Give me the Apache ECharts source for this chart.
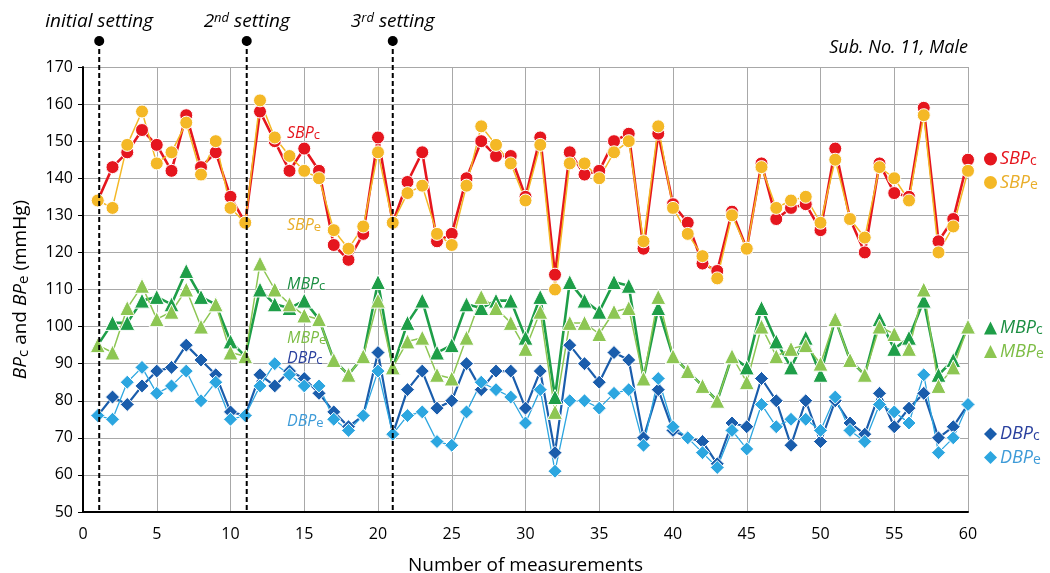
<!DOCTYPE html>
<html><head><meta charset="utf-8">
<script src="https://cdn.jsdelivr.net/npm/echarts@6/dist/echarts.min.js"></script>
<style>html,body{margin:0;padding:0;background:#fff}#c{width:1050px;height:573px}</style>
</head><body><div id="c"></div>
<script>
const measurements = Array.from({length: 60}, (_, i) => i + 1);
const sbpC = [134,143,147,153,149,142,157,143,147,135,128,158,150,142,148,142,122,118,125,151,128,139,147,123,125,140,150,146,146,135,151,114,147,141,142,150,152,121,152,133,128,117,115,131,121,144,129,132,133,126,148,129,120,144,136,135,159,123,129,145];
const sbpE = [134,132,149,158,144,147,155,141,150,132,128,161,151,146,142,140,126,121,127,147,128,136,138,125,122,138,154,149,144,134,149,110,144,144,140,147,150,123,154,132,125,119,113,130,121,143,132,134,135,128,145,129,124,143,140,134,157,120,127,142];
const mbpC = [95,101,101,107,108,106,115,108,106,96,92,110,106,105,107,102,91,87,92,112,89,101,107,93,95,106,105,107,107,97,108,81,112,107,104,112,111,86,105,92,88,84,80,92,89,105,96,89,97,87,102,91,87,102,94,97,107,87,91,100];
const mbpE = [95,93,105,111,102,104,110,100,106,93,92,117,110,106,103,102,91,87,92,107,89,96,97,87,86,97,108,105,101,94,104,77,101,101,98,104,105,86,108,92,88,84,80,92,85,100,92,94,95,90,102,91,87,100,98,94,110,84,89,100];
const dbpC = [76,81,79,84,88,89,95,91,87,77,76,87,84,88,86,82,77,73,76,93,71,83,88,78,80,90,83,88,88,78,88,66,95,90,85,93,91,70,83,72,70,69,63,74,73,86,80,68,80,69,80,74,71,82,73,78,82,70,73,79];
const dbpE = [76,75,85,89,82,84,88,80,85,75,76,84,90,87,84,84,75,72,76,88,71,76,77,69,68,77,85,83,81,74,83,61,80,80,78,82,83,68,86,73,70,66,62,72,67,79,73,75,75,72,81,72,69,79,77,74,87,66,70,79];
const xTicks = [0,5,10,15,20,25,30,35,40,45,50,55,60];
const yTicks = [50,60,70,80,90,100,110,120,130,140,150,160,170];
const settingX = [1.1, 11.1, 21];

const FONT = 'Open Sans';
const seriesDefs = [
  {name:'SBPc', data:sbpC, color:'#E5161E', symbol:'circle', size:13, lw:2.6, txt:'#E5161E'},
  {name:'SBPe', data:sbpE, color:'#F4B826', symbol:'circle', size:13, lw:1.5, txt:'#E9AE2A'},
  {name:'MBPc', data:mbpC, color:'#1E9E48', symbol:'triangle', size:15, lw:2.6, txt:'#1B8E42'},
  {name:'MBPe', data:mbpE, color:'#8DC653', symbol:'triangle', size:15, lw:1.5, txt:'#7DBD45'},
  {name:'DBPc', data:dbpC, color:'#1A5DAC', symbol:'diamond', size:14, lw:2.2, txt:'#2A409E'},
  {name:'DBPe', data:dbpE, color:'#2CA6E0', symbol:'diamond', size:14, lw:1.3, txt:'#3E9BD8'}
];

function richName(n){ return '{i|' + n.slice(0,3) + '}{s|' + n.slice(3) + '}'; }
const richBase = {
  i:{fontStyle:'italic', fontSize:18, fontFamily:FONT},
  s:{fontSize:14, fontFamily:FONT, verticalAlign:'bottom', padding:[5,0,0,0]}
};

const chart = echarts.init(document.getElementById('c'));

const legendGroup = (names, top) => ({
  orient:'vertical', left:979, top:top, itemWidth:13, itemHeight:13, itemGap:5,
  selectedMode:false,
  data: names.map(n => {
    const d = seriesDefs.find(s => s.name === n);
    return {name:n, icon:d.symbol, textStyle:{color:d.txt}, itemStyle:{borderWidth:0}};
  }),
  formatter: n => richName(n),
  textStyle:{fontFamily:FONT, rich: richBase, padding:[0,0,0,-2]}
});

chart.setOption({
  animation:false,
  backgroundColor:'#fff',
  grid:{left:83, right:82, top:67, bottom:61, containLabel:false, outerBoundsMode:'none'},
  xAxis:{
    type:'value', min:0, max:60, interval:5,
    axisLine:{show:true, onZero:false, lineStyle:{color:'#000', width:2}},
    axisTick:{show:false},
    axisLabel:{color:'#000', fontSize:16, fontFamily:FONT, margin:14},
    splitLine:{show:true, lineStyle:{color:'#A8A8A8', width:1}},
    name:'Number of measurements', nameLocation:'middle', nameGap:44,
    nameTextStyle:{color:'#000', fontSize:19, fontFamily:FONT}
  },
  yAxis:{
    type:'value', min:50, max:170, interval:10,
    axisLine:{show:true, onZero:false, lineStyle:{color:'#000', width:2}},
    axisTick:{show:true, length:5, lineStyle:{color:'#000', width:1}},
    axisLabel:{color:'#000', fontSize:16, fontFamily:FONT, margin:10},
    splitLine:{show:true, lineStyle:{color:'#A8A8A8', width:1}},
    name:'{i|BP}{s|c}{n| and }{i|BP}{s|e}{n| (mmHg)}', nameLocation:'middle', nameGap:52, nameRotate:90,
    nameTextStyle:{color:'#000', fontFamily:FONT, rich:{
      i:{fontStyle:'italic', fontSize:19, fontFamily:FONT, color:'#000'},
      s:{fontSize:15, fontFamily:FONT, color:'#000', verticalAlign:'bottom', padding:[5,0,0,0]},
      n:{fontSize:19, fontFamily:FONT, color:'#000'}
    }}
  },
  legend:[
    legendGroup(['SBPc','SBPe'], 145),
    legendGroup(['MBPc','MBPe'], 314),
    legendGroup(['DBPc','DBPe'], 420)
  ],
  series: seriesDefs.map(d => ({
    name:d.name, type:'line',
    data: measurements.map((x,i) => [x, d.data[i]]),
    symbol:d.symbol, symbolSize:d.size,
    lineStyle:{color:d.color, width:d.lw},
    itemStyle:{color:d.color, borderColor:'#fff', borderWidth:1},
    emphasis:{disabled:true}
  }))
});

// annotations tied to axis coordinates
const graphics = [];
const labelsTop = [
  '{t|initial setting}',
  '{t|2}{sup|nd}{t| setting}',
  '{t|3}{sup|rd}{t| setting}'
];
const yBot = chart.convertToPixel({yAxisIndex:0}, 50);
settingX.forEach((sx, k) => {
  const px = chart.convertToPixel({xAxisIndex:0}, sx);
  graphics.push({type:'line', shape:{x1:px, y1:41, x2:px, y2:yBot}, style:{stroke:'#000', lineWidth:2, lineDash:[5,3]}, z:10});
  graphics.push({type:'circle', shape:{cx:px, cy:41, r:5}, style:{fill:'#000'}, z:11});
  graphics.push({type:'text', x:px, y:22, style:{text:labelsTop[k], align:'center', verticalAlign:'middle',
    rich:{t:{fontStyle:'italic', fontSize:19, fontFamily:FONT, fill:'#000'},
          sup:{fontStyle:'italic', fontSize:13, fontFamily:FONT, fill:'#000', verticalAlign:'top', padding:[0,0,8,0]}}}, z:11});
});
graphics.push({type:'text', right:82, top:39, style:{text:'Sub. No. 11, Male', fontStyle:'italic', fontSize:18, fontFamily:FONT, fill:'#000'}});
const inLabels = [
  ['SBPc', 133], ['SBPe', 225], ['MBPc', 284], ['MBPe', 338], ['DBPc', 358], ['DBPe', 421]
];
inLabels.forEach(([n, y]) => {
  const d = seriesDefs.find(s => s.name === n);
  graphics.push({type:'text', x:287, y:y, style:{text:richName(n), verticalAlign:'middle',
    rich:{i:{fontStyle:'italic', fontSize:16, fontFamily:FONT, fill:d.txt},
          s:{fontSize:13, fontFamily:FONT, fill:d.txt, verticalAlign:'bottom', padding:[4,0,0,0]}}}, z:12});
});
chart.setOption({graphic: graphics});
</script></body></html>
